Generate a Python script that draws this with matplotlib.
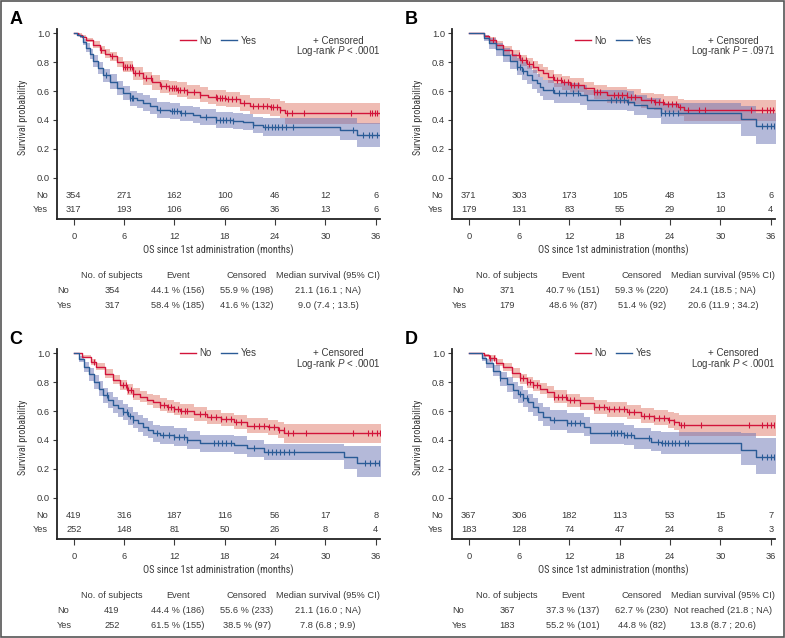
import numpy as np
import matplotlib
matplotlib.use("Agg")
from matplotlib import pyplot as plt
from matplotlib.lines import Line2D
from matplotlib.patches import Rectangle

plt.rcParams['font.family'] = ['Liberation Sans', 'DejaVu Sans']
plt.rcParams['mathtext.fontset'] = 'custom'
plt.rcParams['mathtext.it'] = 'Liberation Sans:italic'
plt.rcParams['mathtext.rm'] = 'Liberation Sans'

RED = '#D2143A'
BLUE = '#2A5B96'
RED_FILL = '#E07B6A'
BLUE_FILL = '#6A74B4'
GREY = '#3A3A3A'
NARROW = ['Roboto Condensed', 'DejaVu Sans']

# Risk table time points
risk_times = [0, 6, 12, 18, 24, 30, 36]

# ---- Panel A ----
a_no_t = [0, 0.5, 1.0, 1.5, 2.3, 3.1, 3.7, 4.3, 5.1, 5.9, 7.1, 8.3, 9.3, 10.3, 11.3, 12.3, 13.5, 15.0, 16.0, 17.0, 18.2, 19.8, 21.0, 23.4, 24.6, 25.2, 36.5]
a_no_s = [1, .99, .975, .955, .92, .885, .86, .84, .80, .77, .725, .69, .66, .633, .62, .61, .595, .575, .56, .552, .543, .515, .497, .487, .469, .446, .446]
a_no_lo = [1, .985, .965, .94, .90, .86, .83, .81, .765, .73, .68, .645, .61, .585, .57, .56, .545, .525, .51, .50, .49, .46, .44, .43, .41, .375, .375]
a_no_hi = [1, 1, .99, .97, .945, .915, .89, .87, .835, .81, .77, .735, .71, .68, .67, .66, .645, .625, .61, .605, .595, .57, .555, .545, .53, .515, .515]
a_no_cens = [3.3, 4.6, 5.9, 6.1, 6.4, 6.7, 6.9, 7.3, 7.8, 8.6, 9.2, 10.4, 11.0, 11.4, 11.7, 12.0, 12.2, 12.4,
             12.7, 13.1, 13.5, 14.3, 15.0, 16.9, 17.1, 17.4, 17.7, 18.0, 18.4, 18.8, 19.3, 20.3, 21.4, 22.0,
             22.5, 23.0, 23.5, 23.8, 24.2, 24.6, 25.4, 26.0, 27.5, 33.1, 35.3, 35.6, 35.9, 36.2]
a_yes_t = [0, 0.4, 0.75, 1.1, 1.5, 1.9, 2.3, 2.9, 3.5, 4.3, 5.1, 5.9, 6.7, 7.5, 8.3, 9.1, 9.9, 11.5, 12.7, 14.2, 15.0, 17.0, 19.0, 20.2, 21.4, 22.6, 31.7, 33.7, 36.5]
a_yes_s = [1, .99, .98, .94, .90, .855, .81, .76, .71, .665, .62, .585, .552, .535, .517, .495, .47, .46, .446, .436, .42, .40, .395, .383, .365, .353, .33, .296, .296]
a_yes_lo = [1, .985, .97, .92, .87, .82, .77, .715, .665, .615, .57, .535, .50, .48, .46, .44, .415, .405, .39, .38, .365, .345, .34, .33, .31, .29, .26, .21, .21]
a_yes_hi = [1, 1, .99, .96, .93, .89, .85, .80, .755, .715, .67, .635, .60, .585, .57, .55, .525, .515, .50, .49, .475, .455, .45, .44, .42, .41, .41, .38, .38]
a_yes_cens = [3.9, 6.7, 6.9, 7.1, 10.3, 11.7, 12.0, 12.3, 12.8, 13.3, 15.8, 17.0, 17.4, 17.8, 18.2, 18.6, 19.0,
              21.4, 22.8, 23.2, 23.6, 24.0, 24.4, 24.8, 25.3, 26.1, 33.3, 34.5, 35.2, 35.6, 36.1]
a_risk_no = [354, 271, 162, 100, 46, 12, 6]
a_risk_yes = [317, 193, 106, 66, 36, 13, 6]
a_table_no = ['354', '44.1 % (156)', '55.9 % (198)', '21.1 (16.1 ; NA)']
a_table_yes = ['317', '58.4 % (185)', '41.6 % (132)', '9.0 (7.4 ; 13.5)']
a_pval = 'Log-rank $P$ < .0001'

# ---- Panel B ----
b_no_t = [0, 1.2, 1.8, 2.4, 3.2, 4.1, 5.1, 6.1, 6.9, 7.7, 8.3, 8.9, 9.5, 10.1, 11.1, 12.1, 13.7, 14.9, 16.5, 18.9, 20.5, 22.1, 23.3, 24.9, 25.7, 36.6]
b_no_s = [1, 1, .98, .954, .92, .885, .85, .815, .79, .769, .745, .723, .70, .677, .66, .642, .619, .596, .573, .561, .538, .527, .51, .487, .469, .469]
b_no_lo = [1, 1, .965, .93, .89, .85, .81, .775, .75, .725, .70, .68, .655, .63, .61, .595, .57, .545, .52, .51, .485, .47, .455, .43, .39, .39]
b_no_hi = [1, 1, .99, .975, .945, .915, .885, .85, .83, .81, .785, .765, .745, .72, .705, .69, .665, .645, .625, .615, .59, .58, .565, .545, .54, .54]
b_no_cens = [2.9, 6.0, 6.4, 6.8, 7.2, 7.6, 10.0, 10.5, 11.0, 11.4, 11.8, 12.2, 12.6, 13.0, 14.9, 15.3, 15.7,
             17.3, 17.8, 18.3, 18.8, 19.3, 19.8, 21.7, 22.2, 22.7, 23.2, 23.7, 24.2, 24.7, 25.2, 26.1, 27.5,
             28.2, 33.6, 35.0, 35.5, 35.9, 36.3]
b_yes_t = [0, 1.2, 1.8, 2.4, 3.2, 4.1, 4.9, 5.7, 6.3, 6.9, 7.5, 8.1, 8.5, 8.9, 10.1, 13.3, 14.1, 18.9, 19.7, 21.3, 22.9, 32.4, 34.2, 36.6]
b_yes_s = [1, 1, .97, .93, .89, .85, .81, .77, .74, .711, .68, .654, .63, .607, .584, .573, .538, .527, .503, .48, .446, .404, .358, .358]
b_yes_lo = [1, 1, .945, .89, .845, .80, .755, .71, .68, .65, .615, .59, .565, .54, .515, .505, .47, .46, .435, .41, .37, .29, .23, .23]
b_yes_hi = [1, 1, .99, .965, .93, .895, .86, .83, .80, .775, .745, .72, .695, .675, .655, .645, .61, .60, .575, .55, .52, .50, .45, .45]
b_yes_cens = [5.7, 6.1, 6.5, 10.0, 10.8, 11.6, 12.4, 13.0, 17.0, 17.5, 18.0, 18.5, 19.0, 22.9, 23.4, 23.9,
              24.4, 24.9, 35.0, 35.5, 36.0, 36.4]
b_risk_no = [371, 303, 173, 105, 48, 13, 6]
b_risk_yes = [179, 131, 83, 55, 29, 10, 4]
b_table_no = ['371', '40.7 % (151)', '59.3 % (220)', '24.1 (18.5 ; NA)']
b_table_yes = ['179', '48.6 % (87)', '51.4 % (92)', '20.6 (11.9 ; 34.2)']
b_pval = 'Log-rank $P$ = .0971'

# ---- Panel C ----
c_no_t = [0, 1.0, 2.0, 2.7, 3.7, 4.7, 5.5, 6.3, 7.1, 7.9, 8.7, 9.5, 10.3, 11.1, 11.9, 12.7, 14.3, 15.9, 17.5, 19.1, 20.7, 23.1, 24.3, 25.1, 36.6]
c_no_s = [1, .975, .94, .908, .86, .815, .78, .746, .72, .70, .68, .665, .645, .63, .615, .603, .58, .557, .543, .527, .497, .487, .469, .446, .446]
c_no_lo = [1, .965, .92, .885, .83, .785, .745, .71, .68, .66, .64, .62, .60, .585, .57, .555, .53, .51, .495, .475, .445, .435, .415, .38, .38]
c_no_hi = [1, .99, .96, .93, .89, .85, .815, .785, .76, .74, .72, .71, .69, .675, .66, .65, .625, .605, .59, .575, .55, .54, .525, .51, .51]
c_no_cens = [2.4, 5.9, 6.2, 6.5, 6.8, 7.1, 10.3, 10.8, 11.2, 11.6, 12.0, 12.4, 12.8, 13.2, 13.5, 15.1, 15.7,
             16.3, 16.9, 17.5, 18.1, 18.7, 19.3, 19.9, 21.5, 22.1, 22.7, 23.3, 23.9, 24.5, 25.0, 25.5, 26.1,
             27.7, 33.3, 35.1, 35.6, 36.1, 36.5]
c_yes_t = [0, 0.6, 1.2, 1.8, 2.4, 3.0, 3.5, 4.1, 4.7, 5.3, 5.9, 6.5, 7.1, 7.7, 8.3, 8.9, 9.5, 10.3, 11.9, 13.5, 15.1, 19.1, 20.7, 22.7, 32.2, 33.8, 36.6]
c_yes_s = [1, .96, .908, .855, .804, .755, .711, .675, .642, .62, .596, .565, .538, .515, .492, .47, .446, .434, .423, .40, .376, .365, .342, .319, .284, .238, .238]
c_yes_lo = [1, .94, .87, .81, .755, .705, .655, .62, .585, .56, .535, .505, .48, .455, .43, .41, .385, .375, .36, .34, .315, .305, .28, .26, .20, .145, .145]
c_yes_hi = [1, .98, .94, .895, .85, .805, .76, .73, .695, .675, .65, .625, .595, .57, .55, .53, .505, .495, .48, .46, .435, .425, .40, .375, .36, .36, .36]
c_yes_cens = [4.0, 5.9, 6.3, 6.7, 7.1, 9.9, 10.6, 11.3, 12.0, 12.6, 13.1, 13.5, 16.7, 17.2, 17.7, 18.2, 18.7,
              21.5, 23.1, 23.6, 24.1, 24.6, 25.1, 25.6, 26.3, 34.7, 35.3, 35.9, 36.4]
c_risk_no = [419, 316, 187, 116, 56, 17, 8]
c_risk_yes = [252, 148, 81, 50, 26, 8, 4]
c_table_no = ['419', '44.4 % (186)', '55.6 % (233)', '21.1 (16.0 ; NA)']
c_table_yes = ['252', '61.5 % (155)', '38.5 % (97)', '7.8 (6.8 ; 9.9)']
c_pval = 'Log-rank $P$ < .0001'

# ---- Panel D ----
d_no_t = [0, 1.2, 1.8, 2.4, 3.2, 4.1, 5.1, 6.1, 6.9, 7.7, 8.5, 9.3, 10.1, 11.7, 13.3, 14.9, 16.5, 18.9, 20.5, 22.1, 23.7, 24.5, 25.1, 36.6]
d_no_s = [1, 1, .985, .965, .935, .908, .865, .827, .80, .78, .755, .734, .70, .677, .654, .63, .612, .596, .566, .554, .538, .527, .503, .503]
d_no_lo = [1, 1, .975, .945, .91, .88, .83, .79, .76, .74, .715, .69, .655, .63, .605, .58, .56, .545, .515, .50, .48, .47, .43, .43]
d_no_hi = [1, 1, .995, .985, .96, .935, .90, .86, .835, .815, .795, .775, .745, .72, .70, .68, .66, .645, .62, .61, .595, .585, .575, .575]
d_no_cens = [2.5, 3.0, 6.1, 6.5, 6.9, 7.3, 7.7, 8.1, 10.1, 10.6, 11.1, 11.6, 12.1, 12.6, 13.3, 14.9, 15.5,
             16.1, 16.7, 17.3, 17.9, 18.5, 19.1, 19.7, 20.9, 21.5, 22.1, 22.7, 23.3, 23.9, 24.5, 25.3, 25.7,
             27.7, 33.4, 35.0, 35.5, 36.0, 36.4]
d_yes_t = [0, 1.2, 1.6, 2.0, 2.9, 3.7, 4.5, 5.3, 5.9, 6.5, 7.1, 7.7, 8.3, 8.9, 9.7, 11.7, 13.7, 14.5, 18.5, 19.7, 21.7, 22.9, 32.4, 34.2, 36.6]
d_yes_s = [1, 1, .965, .93, .88, .827, .785, .746, .717, .688, .66, .63, .595, .561, .538, .515, .492, .446, .434, .411, .388, .376, .33, .284, .284]
d_yes_lo = [1, 1, .945, .895, .84, .775, .73, .685, .655, .625, .595, .565, .53, .495, .47, .45, .425, .375, .365, .34, .32, .30, .225, .165, .165]
d_yes_hi = [1, 1, .985, .96, .92, .87, .835, .80, .775, .745, .72, .69, .655, .625, .605, .585, .56, .515, .505, .48, .46, .455, .445, .41, .41]
d_yes_cens = [3.7, 6.1, 6.5, 6.9, 10.1, 11.7, 12.2, 12.7, 13.3, 16.9, 17.3, 17.7, 18.1, 18.5, 18.9, 19.3,
              21.5, 22.6, 23.0, 23.4, 23.8, 24.2, 24.6, 25.0, 25.8, 26.1, 35.0, 35.5, 36.0, 36.4]
d_risk_no = [367, 306, 182, 113, 53, 15, 7]
d_risk_yes = [183, 128, 74, 47, 24, 8, 3]
d_table_no = ['367', '37.3 % (137)', '62.7 % (230)', 'Not reached (21.8 ; NA)']
d_table_yes = ['183', '55.2 % (101)', '44.8 % (82)', '13.8 (8.7 ; 20.6)']
d_pval = 'Log-rank $P$ < .0001'

table_header = ['No. of subjects', 'Event', 'Censored', 'Median survival (95% CI)']

W, H = 785, 638
fig = plt.figure(figsize=(W / 100, H / 100), dpi=100)


def fx(px):
    return px / W


def fy(py):
    return 1 - py / H


def step_value(t, s, x):
    i = np.searchsorted(t, x, side='right') - 1
    return np.asarray(s)[np.clip(i, 0, len(s) - 1)]


def draw_curve(ax, t, s, lo, hi, cens, color, fill):
    ax.fill_between(t, lo, hi, step='post', color=fill, alpha=0.5, lw=0)
    ax.step(t, s, where='post', color=color, lw=1.0)
    cy = step_value(t, s, cens)
    ax.plot(cens, cy, ls='none', marker='|', ms=5, mew=0.8, color=color)


def draw_panel(dx, dy, letter, no, yes, risk_no, risk_yes, tab_no, tab_yes, pval, leg_y, p_y):
    # axes box in pixels (includes the risk rows)
    left, right, top, bottom = 57 + dx, 380 + dx, 29 + dy, 219.3 + dy
    ax = fig.add_axes([fx(left), fy(bottom), fx(right - left), (bottom - top) / H])
    ax.set_xlim(-2.0, 36.5)
    ax.set_ylim((177.7 - 219.3) / 144.4, (177.7 - 29) / 144.4)

    draw_curve(ax, *no, RED, RED_FILL)
    draw_curve(ax, *yes, BLUE, BLUE_FILL)

    for sp in ['top', 'right']:
        ax.spines[sp].set_visible(False)
    for sp in ['left', 'bottom']:
        ax.spines[sp].set_linewidth(1.3)
        ax.spines[sp].set_color('#222222')

    ax.set_yticks([0, 0.2, 0.4, 0.6, 0.8, 1.0])
    ax.set_yticklabels(['0.0', '0.2', '0.4', '0.6', '0.8', '1.0'])
    ax.set_xticks(risk_times)
    ax.tick_params(axis='y', length=3, width=0.8, pad=2, labelsize=6.7, colors=GREY)
    ax.tick_params(axis='x', length=4, width=0.8, pad=5, labelsize=6.7, colors=GREY)

    for x, n1, n2 in zip(risk_times, risk_no, risk_yes):
        ax.text(x, (177.7 - 195) / 144.4, str(n1), ha='center', va='center', fontsize=6.7, color=GREY)
        ax.text(x, (177.7 - 209.5) / 144.4, str(n2), ha='center', va='center', fontsize=6.7, color=GREY)
    fig.text(fx(48 + dx), fy(195 + dy), 'No', ha='right', va='center', fontsize=6.7, color=GREY)
    fig.text(fx(48 + dx), fy(209.5 + dy), 'Yes', ha='right', va='center', fontsize=6.7, color=GREY)

    ax.set_ylabel('Survival probability', family=NARROW, fontstretch='condensed', fontsize=7.2, color=GREY)
    ax.yaxis.set_label_coords((28 - 57) / 323, (219.3 - 117) / 190.3)
    fig.text(fx(218 + dx), fy(250 + dy), 'OS since 1st administration (months)', family=NARROW,
             fontstretch='condensed', ha='center', va='center', fontsize=7.4, color=GREY)

    handles = [Line2D([], [], color=RED, lw=1), Line2D([], [], color=BLUE, lw=1)]
    ax.legend(handles, ['No', 'Yes'], loc='center', bbox_to_anchor=(0.5, (leg_y + 0.288) / 1.318),
              ncol=2, frameon=False, fontsize=7, handlelength=1.6, handletextpad=0.4,
              columnspacing=1.0, labelcolor=GREY)
    ax.text(0.87, leg_y, '+ Censored', transform=ax.get_yaxis_transform(), ha='center', va='center',
            fontsize=7, color=GREY)
    ax.text(0.87, p_y, pval, transform=ax.get_yaxis_transform(), ha='center', va='center',
            fontsize=7, color=GREY)

    fig.text(fx(16 + dx), fy(19 + dy), letter, ha='center', va='center', fontsize=13, weight='bold')

    cols = [112, 178, 247, 328]
    for cx, h, v1, v2 in zip(cols, table_header, tab_no, tab_yes):
        fig.text(fx(cx + dx), fy(276 + dy), h, ha='center', va='center', fontsize=6.7, color=GREY)
        fig.text(fx(cx + dx), fy(290.5 + dy), v1, ha='center', va='center', fontsize=6.7, color=GREY)
        fig.text(fx(cx + dx), fy(305 + dy), v2, ha='center', va='center', fontsize=6.7, color=GREY)
    fig.text(fx(57 + dx), fy(290.5 + dy), 'No', ha='left', va='center', fontsize=6.7, color=GREY)
    fig.text(fx(57 + dx), fy(305 + dy), 'Yes', ha='left', va='center', fontsize=6.7, color=GREY)


draw_panel(0, 0, 'A', (a_no_t, a_no_s, a_no_lo, a_no_hi, a_no_cens),
           (a_yes_t, a_yes_s, a_yes_lo, a_yes_hi, a_yes_cens),
           a_risk_no, a_risk_yes, a_table_no, a_table_yes, a_pval, 0.95, 0.875)
draw_panel(395, 0, 'B', (b_no_t, b_no_s, b_no_lo, b_no_hi, b_no_cens),
           (b_yes_t, b_yes_s, b_yes_lo, b_yes_hi, b_yes_cens),
           b_risk_no, b_risk_yes, b_table_no, b_table_yes, b_pval, 0.95, 0.875)
draw_panel(0, 320, 'C', (c_no_t, c_no_s, c_no_lo, c_no_hi, c_no_cens),
           (c_yes_t, c_yes_s, c_yes_lo, c_yes_hi, c_yes_cens),
           c_risk_no, c_risk_yes, c_table_no, c_table_yes, c_pval, 1.0, 0.925)
draw_panel(395, 320, 'D', (d_no_t, d_no_s, d_no_lo, d_no_hi, d_no_cens),
           (d_yes_t, d_yes_s, d_yes_lo, d_yes_hi, d_yes_cens),
           d_risk_no, d_risk_yes, d_table_no, d_table_yes, d_pval, 1.0, 0.925)

fig.patches.append(Rectangle((0.001, 0.001), 0.998, 0.998, transform=fig.transFigure,
                             fill=False, edgecolor='#555555', lw=1.2))

fig.savefig('out.png', dpi=100)
